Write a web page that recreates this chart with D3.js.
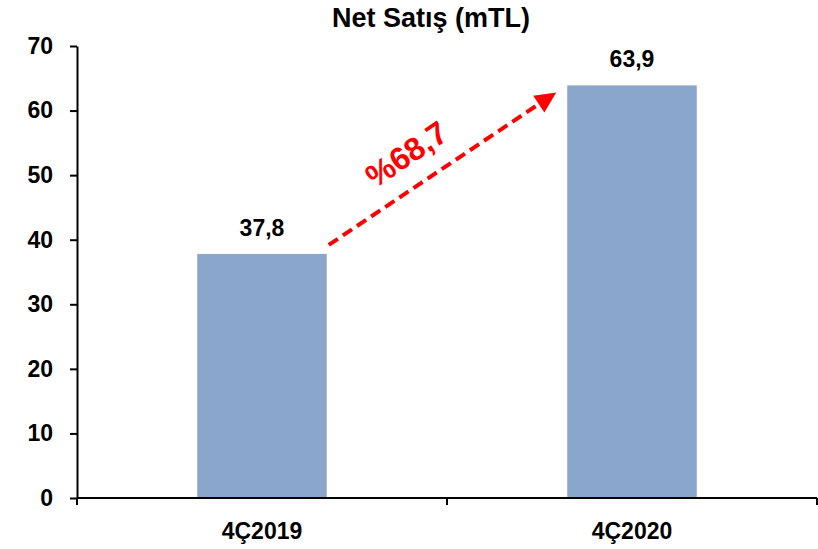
<!DOCTYPE html>
<html lang="tr">
<meta charset="utf-8">
<script src="https://d3js.org/d3.v7.min.js"></script>
<style>
  body { margin: 0; background: #fff; }
  text { font-family: Arial, "Liberation Sans", sans-serif; font-weight: bold; }
</style>
<div id="chart"></div>
<script>

// data
var periods = ["4Ç2019", "4Ç2020"];
var sales = [37.8, 63.9];
var yTicks = [0, 10, 20, 30, 40, 50, 60, 70];
var growthLabel = "%68,7";
var title = "Net Satış (mTL)";

var W = 818, H = 549;
var margin = {top: 46, right: 1, bottom: 51, left: 77};

var svg = d3.select("#chart").append("svg")
  .attr("width", W)
  .attr("height", H);

var x = d3.scaleBand()
  .domain(periods)
  .range([margin.left, W - margin.right])
  .paddingInner(0.65)
  .paddingOuter(0.325);

var y = d3.scaleLinear()
  .domain([0, 70])
  .range([H - margin.bottom, margin.top]);

var fmt = function(v) { return d3.format(".1f")(v).replace(".", ","); };

// bars
svg.selectAll(".bar")
  .data(sales)
  .enter().append("rect")
    .attr("class", "bar")
    .attr("x", function(d, i) { return x(periods[i]); })
    .attr("y", function(d) { return y(d); })
    .attr("width", x.bandwidth())
    .attr("height", function(d) { return y(0) - y(d); })
    .style("fill", "#8ba6cc");

// value labels
svg.selectAll(".val")
  .data(sales)
  .enter().append("text")
    .attr("class", "val")
    .attr("x", function(d, i) { return x(periods[i]) + x.bandwidth() / 2; })
    .attr("y", function(d) { return y(d) - 18; })
    .attr("text-anchor", "middle")
    .style("font-size", "23px")
    .text(function(d) { return fmt(d); });

// y axis
var yAxis = svg.append("g")
  .attr("transform", "translate(" + margin.left + ",0)")
  .call(d3.axisLeft(y).tickValues(yTicks).tickSize(7).tickSizeOuter(0).tickPadding(17));
yAxis.selectAll("text")
  .style("font-size", "23px")
  .style("font-family", "Arial, 'Liberation Sans', sans-serif")
  .attr("fill", "#000");
yAxis.selectAll("line, path").attr("stroke", "#000").attr("stroke-width", 2);

// x axis: line plus ticks at category boundaries
var xAxis = svg.append("g");
xAxis.append("line")
  .attr("x1", margin.left).attr("x2", W - margin.right)
  .attr("y1", y(0)).attr("y2", y(0))
  .attr("stroke", "#000").attr("stroke-width", 2);
var bounds = d3.range(periods.length + 1).map(function(i) { return margin.left + i * x.step(); });
xAxis.selectAll(".bt")
  .data(bounds)
  .enter().append("line")
    .attr("x1", function(d) { return d; }).attr("x2", function(d) { return d; })
    .attr("y1", y(0)).attr("y2", y(0) + 7)
    .attr("stroke", "#000").attr("stroke-width", 2);
xAxis.selectAll(".xl")
  .data(periods)
  .enter().append("text")
    .attr("x", function(d) { return x(d) + x.bandwidth() / 2; })
    .attr("y", y(0) + 41)
    .attr("text-anchor", "middle")
    .style("font-size", "23px")
    .text(function(d) { return d; });

// growth arrow
var x0 = x(periods[0]) + x.bandwidth() + 2, y0 = y(sales[0]) - 9;
var x1 = x(periods[1]) - 11, y1 = y(sales[1]) + 7;
var ang = Math.atan2(y1 - y0, x1 - x0);
var headLen = 21, headW = 10;
var bx = x1 - headLen * Math.cos(ang), by = y1 - headLen * Math.sin(ang);

svg.append("line")
  .attr("x1", x0).attr("y1", y0)
  .attr("x2", bx + 3 * Math.cos(ang)).attr("y2", by + 3 * Math.sin(ang))
  .attr("stroke", "#ff0000")
  .attr("stroke-width", 4)
  .attr("stroke-dasharray", "11,6");

svg.append("polygon")
  .attr("points", [
    [x1, y1],
    [bx + headW * Math.sin(ang), by - headW * Math.cos(ang)],
    [bx - headW * Math.sin(ang), by + headW * Math.cos(ang)]
  ].map(function(p) { return p.join(","); }).join(" "))
  .attr("fill", "#ff0000");

// growth label, above the arrow
var t = 0.42, off = 21;
var lx = x0 + (x1 - x0) * t + off * Math.sin(ang),
    ly = y0 + (y1 - y0) * t - off * Math.cos(ang);
svg.append("text")
  .attr("transform", "translate(" + lx + "," + ly + ") rotate(" + (ang * 180 / Math.PI) + ")")
  .attr("text-anchor", "middle")
  .style("font-size", "32px")
  .style("fill", "#ff0000")
  .text(growthLabel);

// title
svg.append("text")
  .attr("x", 431)
  .attr("y", 27)
  .attr("text-anchor", "middle")
  .style("font-size", "27px")
  .text(title);

</script>
</html>
